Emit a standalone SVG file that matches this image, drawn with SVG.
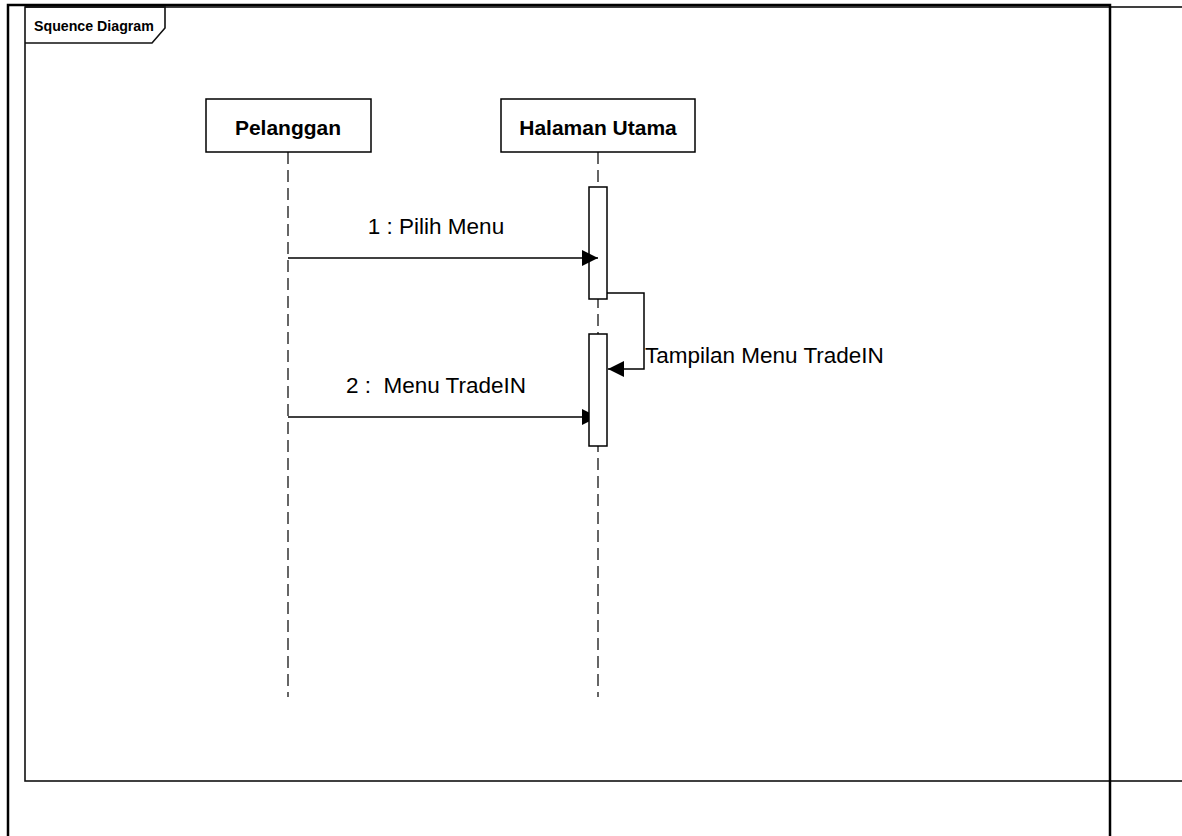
<svg xmlns="http://www.w3.org/2000/svg" width="1182" height="836" viewBox="0 0 1182 836">
  <style>
    .frame { fill: none; stroke: #111; stroke-width: 1.6; }
    .page { fill: none; stroke: #000; stroke-width: 2.5; }
    .head { fill: #fff; stroke: #000; stroke-width: 1.5; }
    .head-text { font-family: "Liberation Sans", Arial, sans-serif; font-weight: bold; font-size: 21px; fill: #000; text-anchor: middle; }
    .lifeline { fill: none; stroke: #000; stroke-width: 1.2; stroke-dasharray: 12 6; }
    .act { fill: #fff; stroke: #000; stroke-width: 1.5; }
    .msg { fill: none; stroke: #000; stroke-width: 1.5; }
    .msg-text { font-family: "Liberation Sans", Arial, sans-serif; font-size: 22.5px; fill: #000; }
    .title { font-family: "Liberation Sans", Arial, sans-serif; font-weight: bold; font-size: 14.2px; fill: #000; }
  </style>
  <defs>
    <marker id="arrow" markerWidth="16" markerHeight="16" viewBox="0 0 16 16" refX="16" refY="8" orient="auto" markerUnits="userSpaceOnUse">
      <path d="M0,0 L16,8 L0,16 Z" fill="#000"/>
    </marker>
  </defs>

  <rect width="1182" height="836" fill="#fff"/>

  <!-- sequence frame and its title tab -->
  <g id="frame">
    <rect class="frame" x="25" y="7" width="1175" height="774"/>
    <path class="frame" d="M25,7 H165 V28 L152,43 H25"/>
    <text class="title" x="34" y="31">Squence Diagram</text>
  </g>

  <!-- page border -->
  <path class="page" d="M8,836 V5 H1110 V836"/>

  <!-- lifelines -->
  <g id="lifelines">
    <line class="lifeline" x1="288" y1="152" x2="288" y2="697"/>
    <line class="lifeline" x1="598" y1="152" x2="598" y2="697"/>
  </g>

  <!-- participants -->
  <g id="pelanggan">
    <rect class="head" x="206" y="99" width="165" height="53"/>
    <text class="head-text" x="288" y="135">Pelanggan</text>
  </g>
  <g id="halaman-utama">
    <rect class="head" x="501" y="99" width="194" height="53"/>
    <text class="head-text" x="598" y="135">Halaman Utama</text>
  </g>

  <!-- connectors -->
  <g id="connectors">
    <g id="activation-1">
      <rect class="act" x="589" y="187" width="18" height="112"/>
    </g>
    <g id="msg-1">
      <line class="msg" x1="288" y1="258" x2="598" y2="258" marker-end="url(#arrow)"/>
      <text class="msg-text" x="436" y="234" text-anchor="middle">1 : Pilih Menu</text>
    </g>
    <g id="msg-2">
      <line class="msg" x1="288" y1="417" x2="598" y2="417" marker-end="url(#arrow)"/>
      <text class="msg-text" x="436" y="393" text-anchor="middle" xml:space="preserve">2 :  Menu TradeIN</text>
    </g>
    <g id="activation-2">
      <rect class="act" x="589" y="334" width="18" height="112"/>
    </g>
    <g id="msg-self">
      <path class="msg" d="M607,293 H644 V369 H608" marker-end="url(#arrow)"/>
      <text class="msg-text" x="645" y="363">Tampilan Menu TradeIN</text>
    </g>
  </g>
</svg>
